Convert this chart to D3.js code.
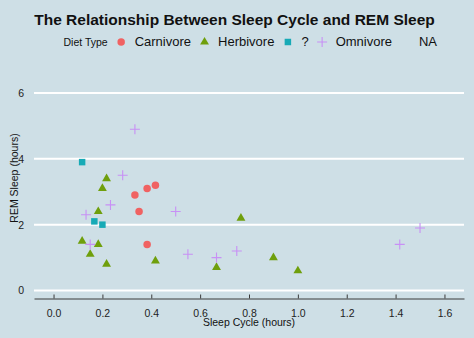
<!DOCTYPE html>
<html>
<head>
<meta charset="utf-8">
<script src="https://cdn.jsdelivr.net/npm/d3@7"></script>
<style>
  body { margin: 0; background: #cedfe6; }
  svg { display: block; font-family: "Liberation Sans", Arial, sans-serif; }
</style>
</head>
<body>
<script>
// values
const dietTypes = ["Carnivore", "Herbivore", "?", "Omnivore", "NA"];
const dietColors = ["#f06262", "#6f9f0c", "#17aab6", "#c890f5", null];

const sleepCycle = [0.333, 0.383, 0.417, 0.35, 0.383,
    0.217, 0.2, 0.183, 0.767, 0.117, 0.183, 0.15, 0.217, 0.417, 0.667, 0.9, 1.0,
    0.117, 0.167, 0.2,
    0.333, 0.283, 0.233, 0.5, 0.133, 0.15, 0.55, 0.667, 0.75, 1.417, 1.5];
const remSleep = [2.9, 3.1, 3.2, 2.4, 1.4,
    3.4, 3.1, 2.4, 2.2, 1.5, 1.4, 1.1, 0.8, 0.9, 0.7, 1.0, 0.6,
    3.9, 2.1, 2.0,
    4.9, 3.5, 2.6, 2.4, 2.3, 1.4, 1.1, 1.0, 1.2, 1.4, 1.9];
const diet = ["Carnivore", "Carnivore", "Carnivore", "Carnivore", "Carnivore",
    "Herbivore", "Herbivore", "Herbivore", "Herbivore", "Herbivore", "Herbivore",
    "Herbivore", "Herbivore", "Herbivore", "Herbivore", "Herbivore", "Herbivore",
    "?", "?", "?",
    "Omnivore", "Omnivore", "Omnivore", "Omnivore", "Omnivore", "Omnivore",
    "Omnivore", "Omnivore", "Omnivore", "Omnivore", "Omnivore"];

const xTicks = [0, 0.2, 0.4, 0.6, 0.8, 1.0, 1.2, 1.4, 1.6];
const yTicks = [0, 2, 4, 6];

const W = 474, H = 338;
const svg = d3.select("body").append("svg").attr("width", W).attr("height", H);

const x = d3.scaleLinear().domain([-0.08, 1.68]).range([34, 464]);
const y = d3.scaleLinear().domain([0, 6]).range([290.5, 93]);
const color = d3.scaleOrdinal().domain(dietTypes).range(dietColors);

function markPath(type) {
    if (type === "Carnivore") return d3.symbol(d3.symbolCircle, 44)();
    if (type === "Herbivore") return d3.symbol(d3.symbolTriangle, 34)();
    if (type === "?") return d3.symbol(d3.symbolSquare, 42)();
    if (type === "Omnivore") return "M-5,0H5M0,-5V5";
    return null;
}

// grid lines
svg.append("g").selectAll("line")
    .data(yTicks)
    .enter()
    .append("line")
    .attr("x1", 34).attr("x2", 464)
    .attr("y1", d => y(d)).attr("y2", d => y(d))
    .attr("stroke", "#ffffff")
    .attr("stroke-width", 2);

// x axis
const xAxis = svg.append("g")
    .attr("transform", "translate(0,298.5)")
    .call(d3.axisBottom(x).tickValues(xTicks).tickFormat(d3.format(".1f"))
        .tickSizeInner(-4).tickSizeOuter(0).tickPadding(11));
xAxis.select(".domain").attr("stroke", "#3a3a3a");
xAxis.selectAll(".tick line").attr("stroke", "#3a3a3a");
xAxis.selectAll("text").attr("font-size", 10.5).attr("fill", "#222")
    .attr("font-family", "Liberation Sans, Arial, sans-serif");

// y axis labels
const yAxis = svg.append("g")
    .attr("transform", "translate(24,0)")
    .call(d3.axisLeft(y).tickValues(yTicks).tickFormat(d3.format("d")).tickSize(0).tickPadding(0));
yAxis.select(".domain").remove();
yAxis.selectAll("text").attr("font-size", 10.5).attr("fill", "#222")
    .attr("font-family", "Liberation Sans, Arial, sans-serif");

// points
const points = sleepCycle.map((v, i) => ({ cycle: v, rem: remSleep[i], diet: diet[i] }));
svg.append("g").selectAll("path")
    .data(points)
    .enter()
    .append("path")
    .attr("d", d => markPath(d.diet))
    .attr("transform", d => `translate(${x(d.cycle)},${y(d.rem)})`)
    .attr("fill", d => d.diet === "Omnivore" ? "none" : color(d.diet))
    .attr("stroke", d => d.diet === "Omnivore" ? color(d.diet) : "none")
    .attr("stroke-width", 1.1);

// titles
svg.append("text")
    .attr("x", 234.5).attr("y", 25)
    .attr("text-anchor", "middle")
    .attr("font-size", 15.5).attr("font-weight", "bold")
    .attr("fill", "#111")
    .text("The Relationship Between Sleep Cycle and REM Sleep");

svg.append("text")
    .attr("x", 249).attr("y", 325.5)
    .attr("text-anchor", "middle")
    .attr("font-size", 10.5).attr("fill", "#111")
    .text("Sleep Cycle (hours)");

svg.append("text")
    .attr("transform", "translate(18,178)rotate(-90)")
    .attr("text-anchor", "middle")
    .attr("font-size", 10.5).attr("fill", "#111")
    .text("REM Sleep (hours)");

// legend
const legend = svg.append("g").attr("transform", "translate(0,46)");
const legTitle = legend.append("text")
    .attr("x", 63.5).attr("y", 0)
    .attr("font-size", 10.5).attr("fill", "#111")
    .text("Diet Type");
let cursor = 63.5 + legTitle.node().getComputedTextLength();
dietTypes.forEach(k => {
    cursor += 13.5;
    const p = markPath(k);
    if (p) {
        legend.append("path")
            .attr("d", p)
            .attr("transform", `translate(${cursor},-4)`)
            .attr("fill", k === "Omnivore" ? "none" : color(k))
            .attr("stroke", k === "Omnivore" ? color(k) : "none")
            .attr("stroke-width", 1.1);
    }
    cursor += 13.5;
    const t = legend.append("text")
        .attr("x", cursor).attr("y", 0)
        .attr("font-size", 13).attr("fill", "#111")
        .text(k);
    cursor += t.node().getComputedTextLength();
});
</script>
</body>
</html>
